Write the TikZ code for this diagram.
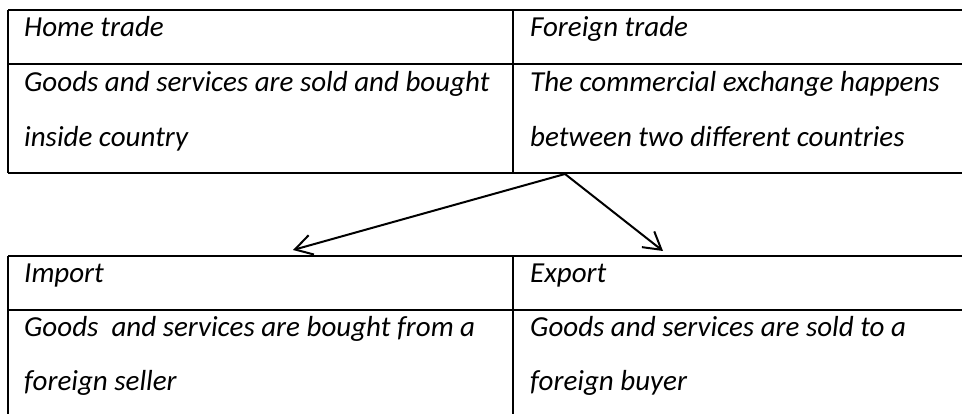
\documentclass[tikz,border=0pt]{standalone}
\usepackage{fontspec}
\setmainfont{Carlito}
\usetikzlibrary{arrows.meta}

\tikzset{
  cell/.style={anchor=base west, inner sep=0pt, font=\fontsize{29}{29}\selectfont\itshape},
  rule/.style={line width=2pt},
  link/.style={line width=2pt, -{Straight Barb[length=17pt, width=20pt, line width=2pt]}}
}

\begin{document}
\begin{tikzpicture}[x=1pt,y=-1pt]
\useasboundingbox (0,0) rectangle (962,414);
% upper table
\draw[rule] (8,10) -- (962,10);
\draw[rule] (8,64) -- (962,64);
\draw[rule] (8,173) -- (962,173);
\draw[rule] (8,10) -- (8,173);
\draw[rule] (513,10) -- (513,173);
\node[cell] (home) at (24,37) {Home trade};
\node[cell] (foreign) at (530,37) {Foreign trade};
\node[cell] (homea) at (24,92) {Goods and services are sold and bought};
\node[cell] (homeb) at (24,147) {inside country};
\node[cell] (foreigna) at (530,92) {The commercial exchange happens};
\node[cell] (foreignb) at (530,147) {between two different countries};
% lower table
\draw[rule] (8,256) -- (962,256);
\draw[rule] (8,310) -- (962,310);
\draw[rule] (8,256) -- (8,414);
\draw[rule] (513,256) -- (513,414);
\node[cell] (import) at (24,283) {Import};
\node[cell] (export) at (530,283) {Export};
\node[cell] (importa) at (24,337) {Goods\ \ and services are bought from a};
\node[cell] (importb) at (24,390) {foreign seller};
\node[cell] (exporta) at (530,337) {Goods and services are sold to a};
\node[cell] (exportb) at (530,390) {foreign buyer};
% arrows
\coordinate (fork) at (565,174);
\coordinate (imptip) at (293,250);
\coordinate (exptip) at (663,251);
\draw[link] (fork) -- (imptip);
\draw[link] (fork) -- (exptip);
\end{tikzpicture}
\end{document}
